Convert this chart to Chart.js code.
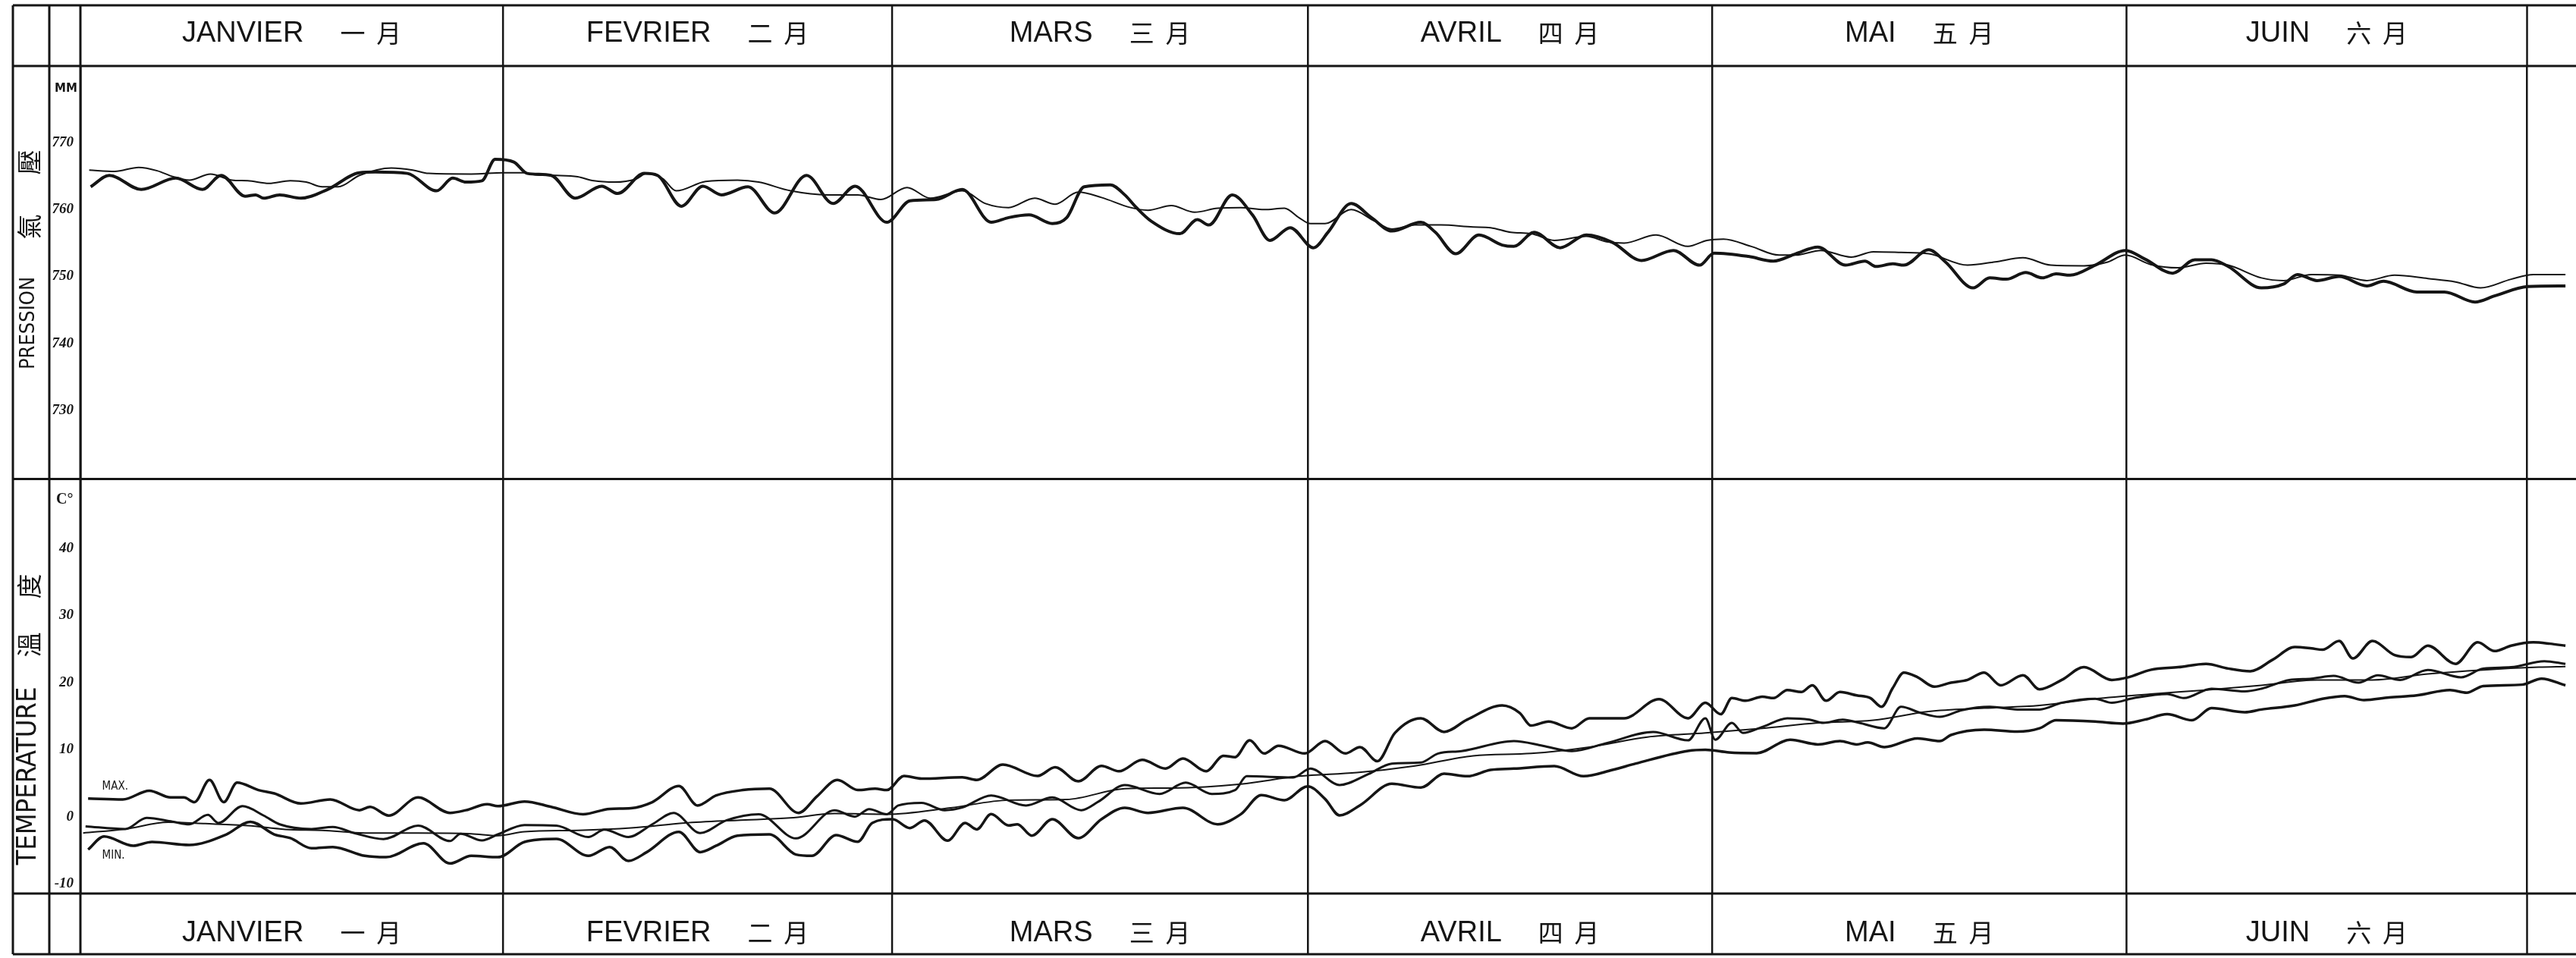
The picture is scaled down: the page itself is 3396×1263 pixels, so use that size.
<!DOCTYPE html>
<html>
<head>
<meta charset="utf-8">
<script src="https://cdn.jsdelivr.net/npm/chart.js@4.4.1/dist/chart.umd.min.js"></script>
<style>
  html, body { margin: 0; padding: 0; background: #fff; }
  #wrap { position: relative; width: 3396px; height: 1263px; background: #fff; overflow: hidden; }
  #pres { position: absolute; left: 0; top: 0; }
  #temp { position: absolute; left: 0; top: 630px; }
</style>
</head>
<body>
<div id="wrap">
  <canvas id="pres" width="3396" height="630"></canvas>
  <canvas id="temp" width="3396" height="633"></canvas>
</div>
<script>
// day index on the x axis: 0 = 1 January. Month edges as drawn on the sheet.
const monthEdges = [0, 31.26, 60.04, 90.8, 120.7, 151.35, 180.98];
const monthNames = ['JANVIER', 'FEVRIER', 'MARS', 'AVRIL', 'MAI', 'JUIN'];
const monthNamesCjk = ['一  月', '二  月', '三  月', '四  月', '五  月', '六  月'];
const pressureTicks = [730, 740, 750, 760, 770];
const temperatureTicks = [-10, 0, 10, 20, 30, 40];

// pressure, daily curve (heavy line), mm
const presDays = [0.76,2.14,4.5,7.06,9.03,10.41,12.18,12.97,13.56,14.74,16.31,18.28,20.64,21.82,24.19,26.35,27.54,28.52,29.7,30.68,32.06,33.05,34.82,36.6,38.56,39.74,41.71,42.69,44.46,46.04,47.42,49.38,51.36,53.71,55.68,57.3,
  59.65,61.36,63.29,65.23,67.37,68.66,70.17,71.89,72.96,74.25,76.18,77.25,78.11,79.19,81.33,82.62,83.48,85.2,86.7,87.99,89.49,91.21,92.28,94.0,95.5,97.01,99.15,100.23,101.73,103.45,105.17,106.03,107.53,109.46,111.39,113.33,115.47,117.83,119.77,120.84,
  123.39,125.24,126.88,128.52,130.56,132.0,132.83,134.06,134.88,136.72,137.95,140.0,141.23,142.46,143.9,145.13,146.15,147.18,149.03,151.28,152.72,154.77,156.41,157.64,158.87,161.33,162.98,164.0,165.44,167.08,169.13,170.36,172.82,174.87,177.13,178.57,181.03,183.82];
const presDaily = [763.4,765.1,763.0,764.7,763.0,765.1,762.0,762.2,761.7,762.2,761.7,763.0,765.5,765.6,765.4,762.8,764.7,764.1,764.3,767.5,767.1,765.4,765.1,761.7,763.5,762.4,765.4,765.1,760.5,763.5,762.2,763.4,759.5,765.1,760.9,763.5,
  758.1,761.3,761.5,763.0,758.1,758.8,759.2,757.9,758.8,763.4,763.7,762.2,760.3,758.3,756.4,758.5,757.7,762.2,759.2,755.4,757.3,754.3,756.6,760.9,758.8,756.8,758.1,756.6,753.4,756.2,754.7,754.5,756.6,754.3,756.2,755.1,752.4,753.9,751.7,753.5,
  753.0,752.3,753.4,754.4,751.7,752.3,751.5,751.9,751.7,754.0,752.2,748.3,749.8,749.6,750.6,749.8,750.4,750.2,751.7,753.9,752.6,750.5,752.5,752.5,751.5,748.3,748.9,750.3,749.4,750.0,748.6,749.3,747.7,747.7,746.2,747.1,748.5,748.6];

// pressure, smoother curve (light line), mm
const presNormDays = [0.65,2.54,4.31,5.68,6.87,8.05,9.62,11.2,12.38,13.95,15.53,16.71,17.89,19.07,20.64,23.0,24.58,25.76,28.91,31.28,32.85,33.64,35.21,36.78,37.97,39.54,41.12,41.9,43.08,44.07,46.24,48.6,50.17,52.53,55.29,57.5,
  59.21,61.15,62.87,65.23,66.95,68.66,70.59,72.1,73.81,75.53,77.68,78.97,80.69,82.41,84.12,85.84,87.56,89.06,90.13,90.99,92.07,94.0,95.72,97.01,98.72,100.65,103.02,104.31,105.81,107.31,109.03,111.39,112.9,114.19,116.55,118.91,
  120.31,121.54,123.59,125.65,126.88,128.73,130.98,132.62,134.67,136.72,139.59,141.64,143.69,145.75,148.21,149.85,151.28,153.13,155.18,157.23,158.87,161.33,162.98,165.03,167.08,169.13,171.18,173.64,175.69,177.54,179.8,181.44,183.82];
const presNorm = [765.9,765.7,766.3,765.8,764.9,764.4,765.3,764.4,764.3,763.9,764.3,764.1,763.4,763.4,765.1,766.2,765.9,765.4,765.3,765.5,765.5,765.2,765.1,764.9,764.3,764.1,764.6,765.4,764.6,762.8,764.2,764.4,764.1,762.8,762.2,762.2,
  761.5,763.3,761.7,762.8,760.9,760.3,761.7,760.8,762.6,761.8,760.3,759.9,760.6,759.6,760.2,760.3,760.0,760.2,758.8,757.9,757.9,760.0,758.3,757.1,757.7,757.7,757.4,757.3,756.6,756.4,755.4,756.0,755.2,755.0,756.2,754.5,
  755.4,755.6,754.5,753.2,753.2,753.9,752.9,753.7,753.6,753.4,751.7,752.2,752.8,751.7,751.6,752.1,753.2,751.8,751.3,752.0,751.7,749.8,749.4,750.3,750.2,749.4,750.2,749.7,749.2,748.3,749.6,750.3,750.3];

// temperature maximum, °C
const tmaxDays = [0.57,3.13,5.1,6.67,7.65,8.44,9.55,10.6,11.59,13.17,14.34,16.31,18.48,20.64,21.43,22.81,24.98,27.34,28.52,30.09,30.88,32.85,34.82,37.18,39.15,40.73,42.3,44.27,45.65,47.03,49.0,50.96,53.12,54.5,
  56.0,57.5,58.79,59.65,60.93,62.22,65.23,66.3,68.23,70.81,72.1,73.81,75.53,76.82,78.54,80.26,81.55,83.27,84.55,85.41,86.49,87.56,88.63,90.56,92.07,93.57,94.65,95.94,97.23,99.15,100.87,102.59,105.17,106.46,107.31,108.6,110.32,111.61,114.19,116.77,118.91,120.2,
  121.34,122.16,123.18,124.41,125.24,126.26,127.29,128.11,129.13,130.16,131.39,132.41,133.23,134.06,134.88,135.9,137.13,138.36,139.59,140.82,142.05,143.69,144.92,146.56,148.2,150.26,151.49,153.13,155.18,157.23,158.87,160.51,162.15,163.8,165.03,165.85,167.08,168.1,169.54,171.18,172.41,173.64,175.69,177.33,178.57,179.8,181.44,182.67,183.82];
const tmax = [2.75,2.6,3.9,2.9,2.9,2.2,5.5,2.2,5.1,4.0,3.5,2.0,2.6,1.0,1.5,0.2,2.9,0.6,1.0,1.9,1.6,2.3,1.5,0.4,1.2,1.3,2.2,4.6,1.7,3.2,4.0,4.2,0.6,3.1,
  5.5,4.0,4.2,4.0,6.1,5.7,5.9,5.5,7.8,6.1,7.4,5.3,7.6,6.8,8.5,7.2,8.7,6.8,9.1,8.9,11.4,9.45,10.6,9.45,11.3,9.45,10.4,8.3,12.5,14.7,12.66,14.5,16.6,15.5,13.6,14.2,13.2,14.7,14.7,17.55,14.7,17.0,
  15.3,17.7,17.3,17.9,17.7,18.9,18.6,19.6,17.3,18.6,18.1,17.7,16.4,19.2,21.5,20.8,19.4,20.0,20.4,21.5,19.6,21.1,19.0,20.4,22.3,20.4,20.8,21.9,22.3,22.8,22.1,21.7,23.4,25.3,25.1,24.9,26.2,23.6,26.2,24.1,23.8,25.5,22.8,26.0,24.7,25.5,26.0,25.8,25.5];

// temperature daily mean, °C
const tmeanDays = [0.38,3.32,4.9,6.8,8.05,9.43,10.21,11.99,13.56,14.74,17.1,18.67,20.25,22.42,24.98,27.34,28.12,29.7,30.88,32.85,35.21,37.57,38.76,40.53,42.3,43.88,45.85,47.8,50.17,52.93,
  55.78,57.28,58.35,59.65,60.5,62.22,63.94,65.23,67.37,69.95,71.89,74.03,75.32,77.25,79.83,81.76,83.69,85.41,86.27,89.71,90.99,93.14,95.29,97.01,99.15,100.44,102.16,106.03,108.17,110.32,112.9,116.34,118.91,120.2,
  120.93,122.16,122.98,124.41,126.26,127.9,128.93,130.36,131.59,133.44,134.67,136.11,137.54,139.18,141.23,143.28,144.92,146.56,149.03,150.26,151.9,154.36,155.59,157.64,160.1,161.33,163.39,165.03,166.67,168.51,169.95,171.59,173.64,176.1,177.74,179.8,182.26,183.82];
const tmean = [-1.4,-1.8,-0.15,-0.7,-1.1,0.3,-0.9,1.6,0.2,-1.1,-1.8,-1.5,-2.4,-3.3,-1.3,-3.6,-2.5,-3.5,-2.6,-1.2,-1.3,-3.0,-1.9,-3.0,-1.1,0.6,-2.4,-0.5,0.4,-3.2,
  1.0,0.04,1.17,0.4,1.7,2.1,1.0,1.4,3.2,1.7,2.9,1.0,2.3,4.75,3.43,5.1,3.43,4.0,6.06,5.88,7.2,4.75,6.4,7.95,8.1,9.45,9.8,11.3,10.6,9.8,11.0,12.66,11.4,14.7,
  11.5,14.0,12.5,13.4,14.7,14.5,14.0,14.5,14.0,13.2,16.4,15.5,14.9,15.9,16.4,16.0,16.0,17.0,17.6,17.0,17.7,18.3,17.7,19.1,18.7,19.1,20.4,20.6,21.0,20.0,21.1,20.4,21.9,20.8,22.1,22.3,23.2,22.8];

// temperature, smooth mean curve, °C
const tnormDays = [0.2,3.32,6.47,9.23,12.38,15.14,17.89,21.04,24.98,28.9,30.88,32.85,36.8,40.73,44.7,48.6,52.5,55.78,59.65,64.37,68.66,72.96,77.25,80.69,85.84,90.13,94.43,98.72,103.02,107.31,111.61,115.91,120.2,124.41,128.52,132.62,136.72,140.82,144.92,149.03,153.13,157.23,161.33,165.44,169.54,173.64,177.74,181.85,183.82];
const tnorm = [-2.4,-1.8,-0.8,-1.0,-1.3,-1.85,-2.0,-2.4,-2.4,-2.5,-2.8,-2.2,-2.0,-1.65,-0.9,-0.5,-0.15,0.5,0.4,1.36,2.5,2.6,4.2,4.3,4.9,6.06,6.6,7.6,9.1,9.45,10.4,11.9,12.5,13.2,14.0,14.4,15.7,16.2,16.6,17.6,18.3,18.9,19.6,20.4,20.4,21.3,21.9,22.3,22.4];

// temperature minimum, °C
const tminDays = [0.57,1.75,3.91,5.29,8.05,10.8,12.57,14.34,15.53,17.1,18.67,21.04,22.61,25.37,27.34,28.91,30.88,32.85,35.21,37.57,39.15,40.53,41.9,44.27,45.85,47.03,48.6,50.96,52.93,54.11,
  55.9,57.5,58.57,60.07,61.36,62.44,64.15,65.44,66.3,67.37,68.66,69.31,70.38,71.89,73.81,75.53,77.25,78.97,81.55,84.12,85.84,87.35,89.06,90.78,92.07,93.14,94.65,97.01,99.15,100.87,102.59,104.31,106.03,109.03,111.18,113.33,115.05,118.91,120.2,
  121.95,124.0,126.47,128.52,130.16,131.39,132.21,133.44,135.9,137.54,138.36,140.82,143.28,144.92,146.15,149.03,151.08,152.72,154.36,156.2,157.64,160.1,161.33,163.8,165.85,167.49,168.92,170.77,172.82,175.28,176.51,177.74,180.62,182.05,183.82];
const tmin = [-4.86,-2.9,-4.29,-3.73,-4.18,-2.6,-0.72,-2.6,-3.16,-4.67,-4.48,-5.8,-6.0,-3.92,-6.93,-5.8,-6.0,-3.73,-3.28,-5.8,-4.48,-6.55,-5.24,-2.22,-5.24,-4.29,-2.79,-2.6,-5.6,-5.8,
  -2.7,-3.7,-0.9,-0.34,-1.66,-0.53,-3.54,-0.9,-1.85,0.41,-1.28,-1.09,-2.79,-0.34,-3.16,-0.34,1.36,0.6,1.36,-1.09,0.41,3.24,2.49,4.56,2.67,0.23,1.73,4.93,4.37,6.44,6.06,7.0,7.19,7.57,6.06,7.0,7.95,9.83,10.0,
  9.6,9.5,11.5,10.8,11.3,10.8,11.1,10.4,11.7,11.3,12.2,13.0,12.7,13.2,14.4,14.2,13.9,14.5,15.3,14.4,16.2,15.6,16.0,16.6,17.6,18.0,17.4,17.8,18.1,18.9,18.5,19.5,19.7,20.6,19.6];

const INK = '#151515';
const X_MAX = 184.6;
const W = 3396;
const WORD_FONT = '38px "Liberation Sans", Arial, sans-serif';
const CJK_FONT = '33px "Noto Sans CJK TC", "Noto Sans CJK SC", sans-serif';
const CJK_SIDE_FONT = '33px "Noto Sans CJK TC", "Noto Sans CJK SC", sans-serif';
const CONDENSED = '"DejaVu Sans Condensed", "Liberation Sans Narrow", sans-serif';

function series(xs, ys, width) {
    return {
        data: xs.map((x, i) => ({ x: x, y: ys[i] })),
        borderColor: INK,
        borderWidth: width,
        pointRadius: 0,
        fill: false,
        cubicInterpolationMode: 'monotone'
    };
}

function xAxis() {
    return {
        type: 'linear', min: 0, max: X_MAX,
        afterBuildTicks: s => { s.ticks = monthEdges.map(v => ({ value: v })); },
        afterFit: s => { s.height = 0; s.paddingLeft = 0; s.paddingRight = 0; },
        grid: { color: INK, lineWidth: 2.5, drawTicks: false },
        border: { display: false },
        ticks: { display: false }
    };
}

function yAxis(min, max, tickValues) {
    return {
        type: 'linear', min: min, max: max,
        afterBuildTicks: s => { s.ticks = tickValues.map(v => ({ value: v })); },
        afterFit: s => { s.width = 41; s.paddingTop = 0; s.paddingBottom = 0; },
        grid: { display: false, drawTicks: false },
        border: { display: false },
        ticks: {
            color: INK, padding: 9,
            font: { family: '"Liberation Serif", serif', style: 'italic', weight: 'bold', size: 19 }
        }
    };
}

function seg(ctx, x1, y1, x2, y2, w) {
    ctx.lineWidth = w;
    ctx.beginPath();
    ctx.moveTo(x1, y1);
    ctx.lineTo(x2, y2);
    ctx.stroke();
}

// month dividers and names for one header row
function monthRow(chart, y0, y1, baseline) {
    const ctx = chart.ctx;
    const xs = chart.scales.x;
    monthEdges.slice(1).forEach(m => {
        const px = xs.getPixelForValue(m);
        seg(ctx, px, y0, px, y1, 2.5);
    });
    ctx.textBaseline = 'alphabetic';
    ctx.textAlign = 'left';
    const gap = 48;
    monthNames.forEach((name, i) => {
        const cx = (xs.getPixelForValue(monthEdges[i]) + xs.getPixelForValue(monthEdges[i + 1])) / 2;
        ctx.font = WORD_FONT;
        const w1 = ctx.measureText(name).width;
        ctx.font = CJK_FONT;
        const w2 = ctx.measureText(monthNamesCjk[i]).width;
        const x0 = cx - (w1 + gap + w2) / 2;
        ctx.font = WORD_FONT;
        ctx.fillText(name, x0, baseline);
        ctx.font = CJK_FONT;
        ctx.fillText(monthNamesCjk[i], x0 + w1 + gap, baseline + 1);
    });
}

// rotated text centred on (cx, cy), reading bottom to top
function sideText(ctx, text, font, cx, cy) {
    ctx.save();
    ctx.translate(cx, cy);
    ctx.rotate(-Math.PI / 2);
    ctx.font = font;
    ctx.textAlign = 'center';
    ctx.textBaseline = 'middle';
    ctx.fillText(text, 0, 0);
    ctx.restore();
}

// frame + header of the pressure block (canvas covers page y 0..630)
const pressureFrame = {
    id: 'pressureFrame',
    afterDraw(chart) {
        const ctx = chart.ctx;
        ctx.save();
        ctx.strokeStyle = INK;
        ctx.fillStyle = INK;
        seg(ctx, 17, 7, W, 7, 3);
        seg(ctx, 17, 87, W, 87, 3);
        [17, 65, 106].forEach(x => seg(ctx, x, 7, x, 630, 3));
        monthRow(chart, 7, 87, 55);
        sideText(ctx, 'PRESSION', '27px ' + CONDENSED, 38, 426);
        sideText(ctx, '氣', CJK_SIDE_FONT, 38, 299);
        sideText(ctx, '壓', CJK_SIDE_FONT, 38, 214);
        ctx.font = 'bold 15px "DejaVu Sans", sans-serif';
        ctx.textAlign = 'left';
        ctx.textBaseline = 'middle';
        ctx.fillText('MM', 72, 117);
        ctx.restore();
    }
};

// frame + bottom header of the temperature block (canvas covers page y 630..1263)
const temperatureFrame = {
    id: 'temperatureFrame',
    afterDraw(chart) {
        const ctx = chart.ctx;
        const xs = chart.scales.x;
        const ys = chart.scales.y;
        ctx.save();
        ctx.strokeStyle = INK;
        ctx.fillStyle = INK;
        seg(ctx, 17, 1.5, W, 1.5, 3);
        seg(ctx, 17, 548, W, 548, 3);
        seg(ctx, 17, 628, W, 628, 3);
        [17, 65, 106].forEach(x => seg(ctx, x, 0, x, 628, 3));
        monthRow(chart, 548, 628, 611);
        sideText(ctx, 'TEMPERATURE', '36px ' + CONDENSED, 38, 393);
        sideText(ctx, '溫', CJK_SIDE_FONT, 38, 220);
        sideText(ctx, '度', CJK_SIDE_FONT, 38, 143);
        ctx.font = 'bold 20px "Liberation Serif", serif';
        ctx.textAlign = 'left';
        ctx.textBaseline = 'middle';
        ctx.fillText('C°', 74, 29);
        ctx.font = '15px "Liberation Sans Narrow", "DejaVu Sans Condensed", sans-serif';
        ctx.fillText('MAX.', xs.getPixelForValue(1.6), ys.getPixelForValue(4.5));
        ctx.fillText('MIN.', xs.getPixelForValue(1.6), ys.getPixelForValue(-5.8));
        ctx.restore();
    }
};

const common = {
    responsive: false,
    animation: false,
    devicePixelRatio: 1,
    plugins: { legend: { display: false }, tooltip: { enabled: false } }
};

new Chart(document.getElementById('pres'), {
    type: 'line',
    data: {
        datasets: [
            series(presNormDays, presNorm, 2),
            series(presDays, presDaily, 4)
        ]
    },
    options: Object.assign({}, common, {
        layout: { padding: { left: 65, top: 87, right: 0, bottom: 0 } },
        scales: { x: xAxis(), y: yAxis(719.94, 781.44, pressureTicks) }
    }),
    plugins: [pressureFrame]
});

new Chart(document.getElementById('temp'), {
    type: 'line',
    data: {
        datasets: [
            series(tnormDays, tnorm, 2),
            series(tmeanDays, tmean, 3),
            series(tmaxDays, tmax, 3.5),
            series(tminDays, tmin, 3.5)
        ]
    },
    options: Object.assign({}, common, {
        layout: { padding: { left: 65, top: 0, right: 0, bottom: 85 } },
        scales: { x: xAxis(), y: yAxis(-11.41, 50.5, temperatureTicks) }
    }),
    plugins: [temperatureFrame]
});
</script>
</body>
</html>
